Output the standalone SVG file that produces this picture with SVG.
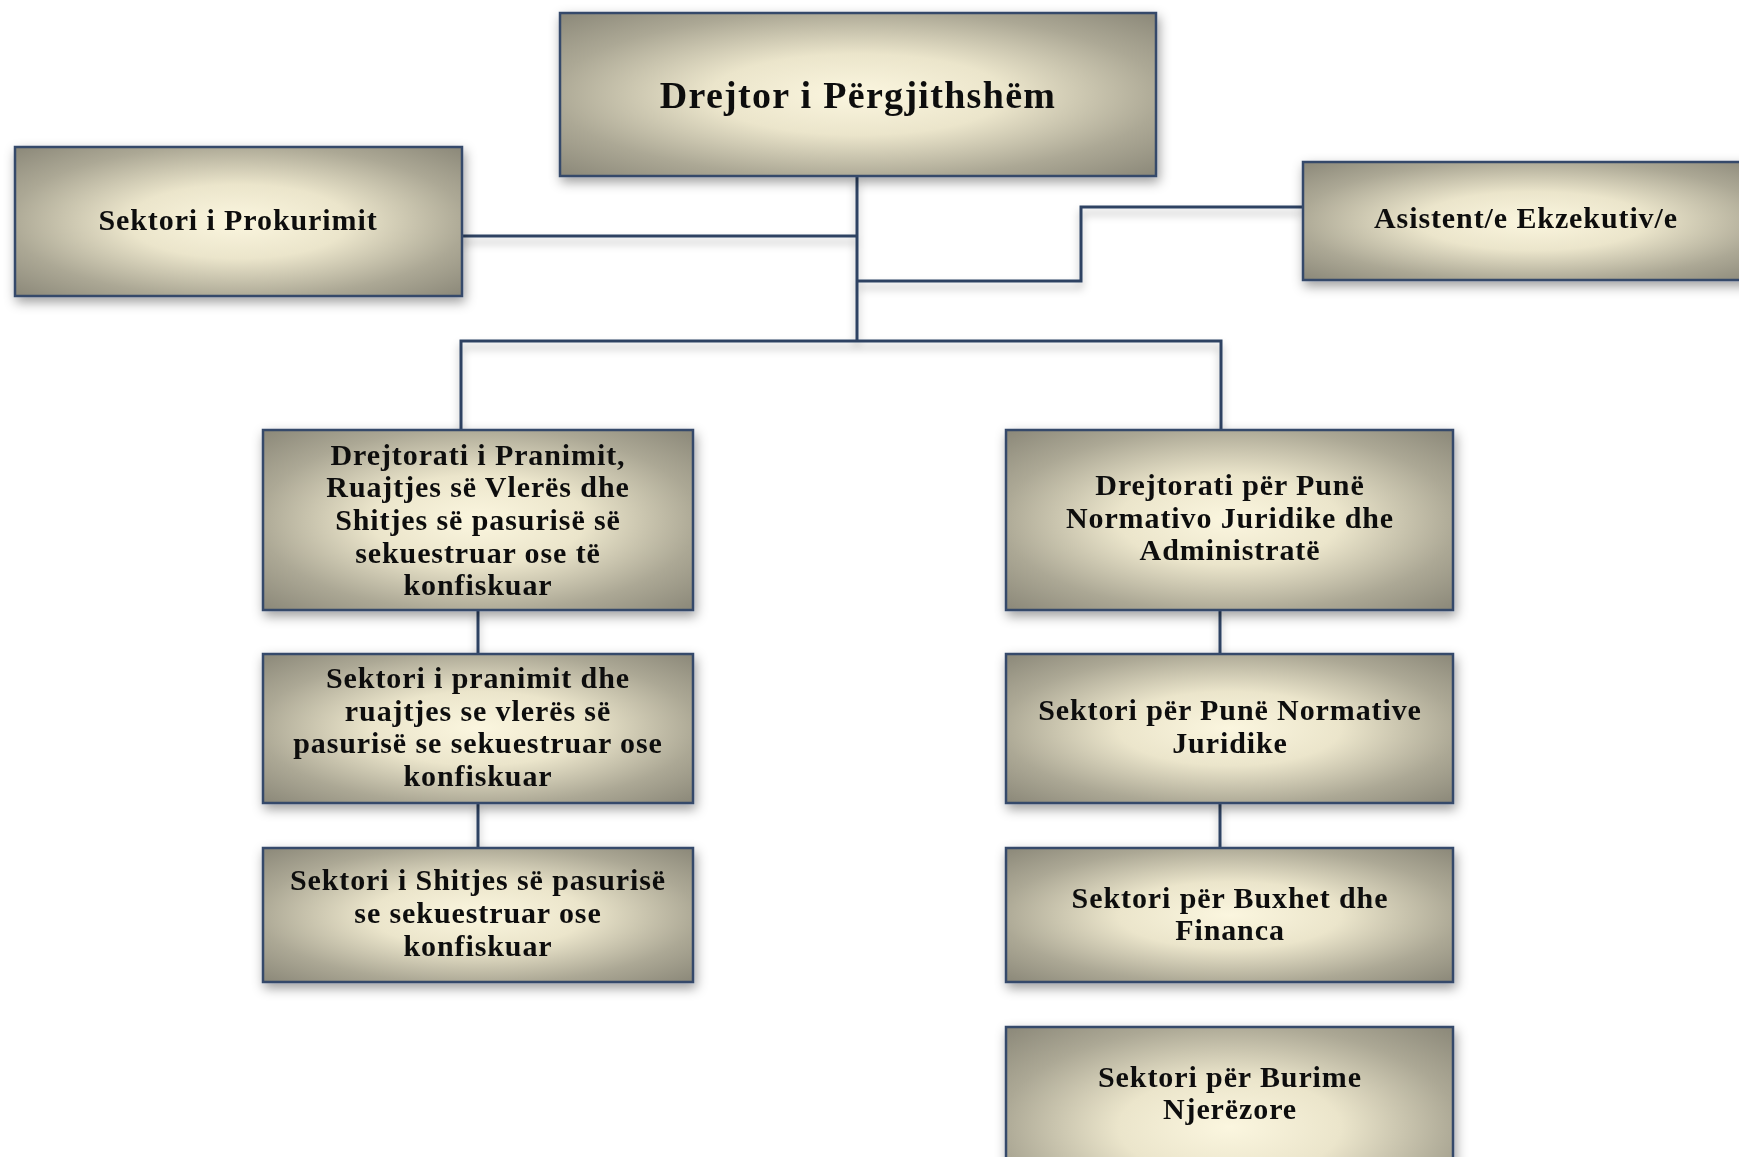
<svg xmlns="http://www.w3.org/2000/svg" width="1739" height="1157" viewBox="0 0 1739 1157">
  <defs>
    <radialGradient id="boxFill" cx="0.5" cy="0.5" r="0.71">
      <stop offset="0" stop-color="#fbf6df"/>
      <stop offset="0.35" stop-color="#ebe5cb"/>
      <stop offset="0.72" stop-color="#aca895"/>
      <stop offset="1" stop-color="#8a8778"/>
    </radialGradient>
    <filter id="shadow" x="-20%" y="-20%" width="140%" height="150%">
      <feDropShadow dx="2" dy="5" stdDeviation="6" flood-color="#000" flood-opacity="0.38"/>
    </filter>
    <filter id="lineShadow" x="-20%" y="-20%" width="140%" height="140%">
      <feDropShadow dx="0" dy="6" stdDeviation="4" flood-color="#000" flood-opacity="0.3"/>
    </filter>
  </defs>
  <style>
    .box { fill: url(#boxFill); stroke: #34496b; stroke-width: 2.5; }
    .lbl { font-family: "Liberation Serif", "Times New Roman", serif; font-weight: bold; font-size: 30px; fill: #111; text-anchor: middle; letter-spacing: 0.9px; }
    .title { font-size: 38px; letter-spacing: 1.3px; }
    .wire { fill: none; stroke: #2e4262; stroke-width: 3; }
  </style>
  <rect width="1739" height="1157" fill="#fff"/>

  <!-- connectors -->
  <g id="connectors" filter="url(#lineShadow)">
    <path class="wire" d="M857 176 V341"/>
    <path class="wire" d="M461 236 H857"/>
    <path class="wire" d="M857 281 H1081 V207 H1303"/>
    <path class="wire" d="M461 429 V341 H1221 V429"/>
    <path class="wire" d="M478 610 V654"/>
    <path class="wire" d="M478 803 V848"/>
    <path class="wire" d="M1220 610 V654"/>
    <path class="wire" d="M1220 803 V848"/>
  </g>

  <g id="node-drejtor" filter="url(#shadow)">
    <rect class="box" x="560" y="13" width="596" height="163"/>
    <text class="lbl title" x="858" y="108">Drejtor i Përgjithshëm</text>
  </g>

  <g id="node-prokurimi" filter="url(#shadow)">
    <rect class="box" x="15" y="147" width="447" height="149"/>
    <text class="lbl" x="238" y="230">Sektori i Prokurimit</text>
  </g>

  <g id="node-asistent" filter="url(#shadow)">
    <rect class="box" x="1303" y="162" width="460" height="118"/>
    <text class="lbl" x="1526" y="228">Asistent/e Ekzekutiv/e</text>
  </g>

  <g id="node-drejtorati-pranimit" filter="url(#shadow)">
    <rect class="box" x="263" y="430" width="430" height="180"/>
    <text class="lbl" x="478" y="465">Drejtorati i Pranimit,</text>
    <text class="lbl" x="478" y="497">Ruajtjes së Vlerës dhe</text>
    <text class="lbl" x="478" y="530">Shitjes së pasurisë së</text>
    <text class="lbl" x="478" y="563">sekuestruar ose të</text>
    <text class="lbl" x="478" y="595">konfiskuar</text>
  </g>

  <g id="node-sektori-pranimit" filter="url(#shadow)">
    <rect class="box" x="263" y="654" width="430" height="149"/>
    <text class="lbl" x="478" y="688">Sektori i pranimit dhe</text>
    <text class="lbl" x="478" y="721">ruajtjes se vlerës së</text>
    <text class="lbl" x="478" y="753">pasurisë se sekuestruar ose</text>
    <text class="lbl" x="478" y="786">konfiskuar</text>
  </g>

  <g id="node-sektori-shitjes" filter="url(#shadow)">
    <rect class="box" x="263" y="848" width="430" height="134"/>
    <text class="lbl" x="478" y="890">Sektori i Shitjes së pasurisë</text>
    <text class="lbl" x="478" y="923">se sekuestruar ose</text>
    <text class="lbl" x="478" y="956">konfiskuar</text>
  </g>

  <g id="node-drejtorati-normativ" filter="url(#shadow)">
    <rect class="box" x="1006" y="430" width="447" height="180"/>
    <text class="lbl" x="1230" y="495">Drejtorati për Punë</text>
    <text class="lbl" x="1230" y="528">Normativo Juridike dhe</text>
    <text class="lbl" x="1230" y="560">Administratë</text>
  </g>

  <g id="node-sektori-normativ" filter="url(#shadow)">
    <rect class="box" x="1006" y="654" width="447" height="149"/>
    <text class="lbl" x="1230" y="720">Sektori për Punë Normative</text>
    <text class="lbl" x="1230" y="753">Juridike</text>
  </g>

  <g id="node-sektori-buxhet" filter="url(#shadow)">
    <rect class="box" x="1006" y="848" width="447" height="134"/>
    <text class="lbl" x="1230" y="908">Sektori për Buxhet dhe</text>
    <text class="lbl" x="1230" y="940">Financa</text>
  </g>

  <g id="node-sektori-burime" filter="url(#shadow)">
    <rect class="box" x="1006" y="1027" width="447" height="200"/>
    <text class="lbl" x="1230" y="1087">Sektori për Burime</text>
    <text class="lbl" x="1230" y="1119">Njerëzore</text>
  </g>
</svg>
